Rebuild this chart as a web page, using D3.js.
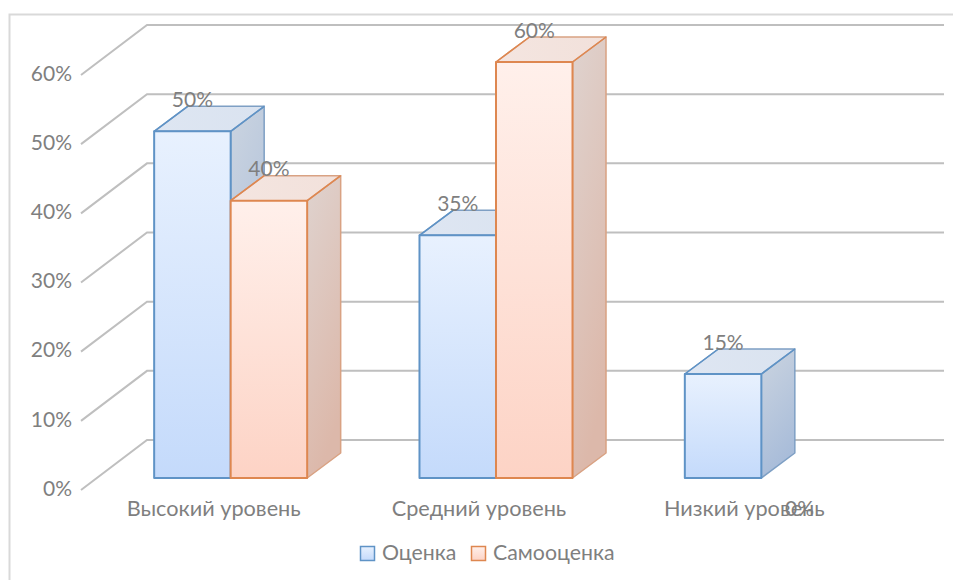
<!DOCTYPE html>
<html>
<head>
<meta charset="utf-8">
<script src="https://cdn.jsdelivr.net/npm/d3@7"></script>
<style>
  html, body { margin: 0; padding: 0; background: #fff; }
  svg { display: block; }
  text { font-family: Lato, Carlito, sans-serif; fill: #7f7f7f; }
</style>
</head>
<body>
<div id="chart"></div>
<script>
const categories = ["Высокий уровень", "Средний уровень", "Низкий уровень"];
const seriesNames = ["Оценка", "Самооценка"];
const ocenka = [50, 35, 15];
const samoocenka = [40, 60, 0];
const tickValues = [0, 10, 20, 30, 40, 50, 60];

const width = 953, height = 580;
const fontSize = 21;
const legendFontSize = 21.3;
const categoryFontSize = 21.7;

// depth of the 3d box, and of the whole floor
const barDx = 33.5, barDy = -25;
const wallDx = 66, wallDy = -50;
const gridEnd = 944;

const svg = d3.select("#chart").append("svg")
  .attr("width", width)
  .attr("height", height);

const colors = [
  { line: "#5f93c6", sideLine: "#7e9fc4", front: ["#e8f1fe", "#c4dafb"], side: ["#cbd4e0", "#a8bcd9"], top: ["#dee6f2", "#dae3f0"] },
  { line: "#de8750", sideLine: "#d9a283", front: ["#fff0eb", "#fdd3c5"], side: ["#dfd3cf", "#dcb8aa"], top: ["#f4e5e0", "#f2e1db"] }
];

// gradients for the faces
const defs = svg.append("defs");
function addGradient(id, stops, x2, y2) {
  const g = defs.append("linearGradient").attr("id", id)
    .attr("x1", 0).attr("y1", 0).attr("x2", x2).attr("y2", y2);
  g.append("stop").attr("offset", "0%").attr("stop-color", stops[0]);
  g.append("stop").attr("offset", "100%").attr("stop-color", stops[1]);
}
colors.forEach((c, i) => {
  addGradient("front" + i, c.front, 0, 1);
  addGradient("side" + i, c.side, 0.3, 1);
  addGradient("top" + i, c.top, 1, 0);
});

// outer frame, runs off the page at the bottom and right
svg.append("path")
  .attr("d", `M9.5,${height}V14.5H${width}`)
  .attr("fill", "none")
  .attr("stroke", "#d9d9d9")
  .attr("stroke-width", 2);

// scales: the wall is the back plane, the bars sit between it and the front axis
const xWall = d3.scaleBand().domain(categories).range([147, 943]);
const xInner = d3.scaleBand().domain(seriesNames).range([0, xWall.bandwidth()]).paddingOuter(0.734).paddingInner(0);
const yWall = d3.scaleLinear().domain([0, 60]).range([440, 25]);
const yBar = d3.scaleLinear().domain([0, 60]).range([478, 62]);
const yAxisScale = d3.scaleLinear().domain([0, 60]).range([488.5, 73.5]);

const barOffset = -49; // bar fronts relative to back wall

// gridlines on wall + slanted side wall
const grid = svg.append("g").attr("class", "grid");
grid.selectAll("path")
  .data(tickValues)
  .join("path")
  .attr("d", d => {
    const y = yWall(d);
    return `M${147 - wallDx},${y - wallDy}L147,${y}H${gridEnd}`;
  })
  .attr("fill", "none")
  .attr("stroke", "#bfbfbf")
  .attr("stroke-width", 2);

// value axis
const axisG = svg.append("g")
  .attr("transform", "translate(72,0)")
  .call(d3.axisLeft(yAxisScale)
    .tickValues(tickValues)
    .tickFormat(d => d + "%")
    .tickSize(0)
    .tickPadding(0));
axisG.select(".domain").remove();
axisG.selectAll("text").attr("font-size", fontSize).style("font-family", "Lato, Carlito, sans-serif");

// bars
const series = [ocenka, samoocenka];
const bars = [];
categories.forEach((cat, ci) => {
  series.forEach((vals, si) => {
    bars.push({ cat, si, name: seriesNames[si], value: vals[ci] });
  });
});

const barG = svg.append("g");
bars.filter(d => d.value > 0).forEach(d => {
  const c = colors[d.si];
  const x0 = xWall(d.cat) + xInner(d.name) + barOffset;
  const x1 = x0 + xInner.bandwidth();
  const yT = yBar(d.value);
  const yB = yBar(0);
  const g = barG.append("g").attr("stroke-linejoin", "round");

  g.append("path")
    .attr("d", `M${x1},${yB}L${x1 + barDx},${yB + barDy}V${yT + barDy}L${x1},${yT}Z`)
    .attr("fill", `url(#side${d.si})`)
    .attr("stroke", c.sideLine)
    .attr("stroke-width", 1.5);
  g.append("path")
    .attr("d", `M${x0},${yT}L${x0 + barDx},${yT + barDy}H${x1 + barDx}L${x1},${yT}Z`)
    .attr("fill", `url(#top${d.si})`)
    .attr("stroke", c.sideLine)
    .attr("stroke-width", 1.5);
  // the edges running back from the front-left corner are darker
  g.append("path")
    .attr("d", `M${x0},${yT}L${x0 + barDx},${yT + barDy}M${x1},${yT}L${x1 + barDx},${yT + barDy}`)
    .attr("fill", "none")
    .attr("stroke", c.line)
    .attr("stroke-width", 1.5);
  g.append("rect")
    .attr("x", x0)
    .attr("y", yT)
    .attr("width", x1 - x0)
    .attr("height", yB - yT)
    .attr("fill", `url(#front${d.si})`)
    .attr("stroke", c.line)
    .attr("stroke-width", 2);
});

// data labels go on top of everything
svg.append("g").selectAll("text")
  .data(bars)
  .join("text")
  .attr("x", d => xWall(d.cat) + xInner(d.name) + barOffset + xInner.bandwidth() / 2)
  .attr("y", d => yBar(d.value) + (d.value === 0 ? 29 : -33))
  .attr("text-anchor", "middle")
  .attr("dominant-baseline", "central")
  .attr("font-size", fontSize)
  .text(d => d.value + "%");

// category labels
svg.append("g").selectAll("text")
  .data(categories)
  .join("text")
  .attr("x", d => xWall(d) + xWall.bandwidth() / 2 - wallDx)
  .attr("y", 508)
  .attr("text-anchor", "middle")
  .attr("dominant-baseline", "central")
  .attr("font-size", categoryFontSize)
  .text(d => d);

// legend
const legendX = [360, 471];
const legend = svg.append("g").selectAll("g")
  .data(seriesNames)
  .join("g")
  .attr("transform", (d, i) => `translate(${legendX[i]},546)`);
legend.append("rect")
  .attr("x", 0.5).attr("y", 0.5)
  .attr("width", 14).attr("height", 14)
  .attr("fill", (d, i) => `url(#front${i})`)
  .attr("stroke", (d, i) => colors[i].line)
  .attr("stroke-width", 1.5);
legend.append("text")
  .attr("x", 22)
  .attr("y", 6)
  .attr("dominant-baseline", "central")
  .attr("font-size", legendFontSize)
  .text(d => d);
</script>
</body>
</html>
